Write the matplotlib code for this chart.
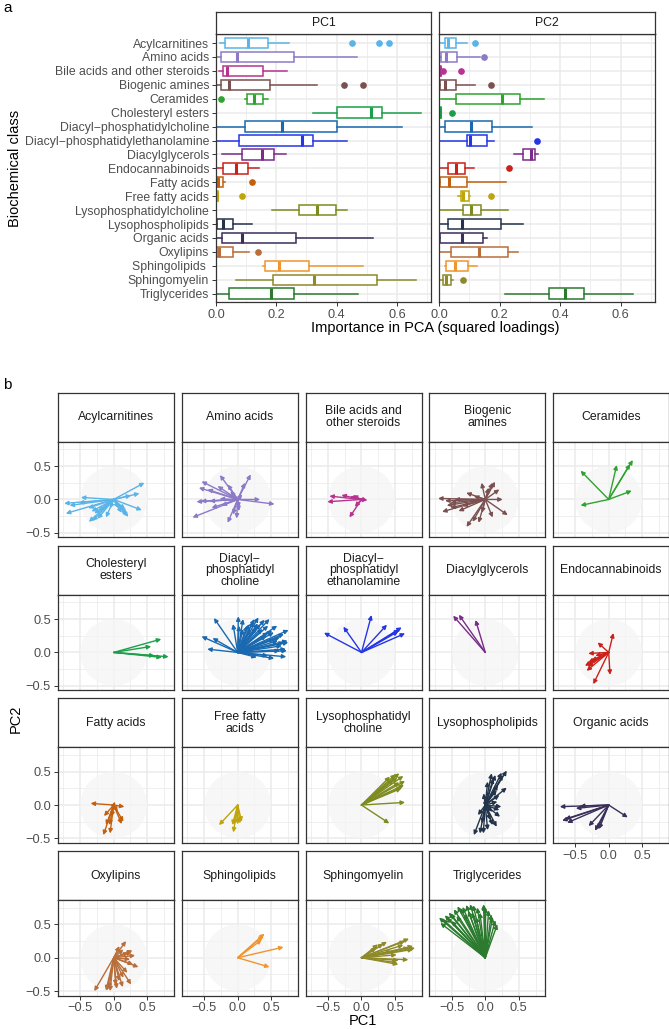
import matplotlib
matplotlib.use("Agg")
import matplotlib.pyplot as plt
from matplotlib.patches import Circle

plt.rcParams['font.family'] = ['Liberation Sans', 'DejaVu Sans']

# ---------------- data ----------------
classes = ["Acylcarnitines", "Amino acids", "Bile acids and other steroids",
           "Biogenic amines", "Ceramides", "Cholesteryl esters",
           "Diacyl\u2212phosphatidylcholine", "Diacyl\u2212phosphatidylethanolamine",
           "Diacylglycerols", "Endocannabinoids", "Fatty acids", "Free fatty acids",
           "Lysophosphatidylcholine", "Lysophospholipids", "Organic acids",
           "Oxylipins", "Sphingolipids ", "Sphingomyelin", "Triglycerides"]

strip_labels = ["Acylcarnitines", "Amino acids", "Bile acids and\nother steroids",
                "Biogenic\namines", "Ceramides", "Cholesteryl\nesters",
                "Diacyl\u2212\nphosphatidyl\ncholine", "Diacyl\u2212\nphosphatidyl\nethanolamine",
                "Diacylglycerols", "Endocannabinoids", "Fatty acids", "Free fatty\nacids",
                "Lysophosphatidyl\ncholine", "Lysophospholipids", "Organic acids",
                "Oxylipins", "Sphingolipids", "Sphingomyelin", "Triglycerides"]

colors = ["#5AB4E8", "#8C7AC8", "#B8338F", "#7B5050", "#2EA32E", "#19A048",
          "#1A69B0", "#2436E5", "#7A2C88", "#CC2019", "#C2600F", "#BFA50A",
          "#7E8B1E", "#23344A", "#3A2F5A", "#B86E3A", "#F0952E", "#8E8A2A", "#2B7A2E"]

# boxplot statistics of squared loadings, PC1
pc1_whislo = [0.013, 0.003, 0.011, 0.002, 0.096, 0.321, 0.001, 0.001, 0.019, 0.002,
              0.000, 0.000, 0.186, 0.000, 0.002, 0.000, 0.155, 0.066, 0.000]
pc1_q1 = [0.030, 0.015, 0.024, 0.015, 0.102, 0.400, 0.096, 0.077, 0.086, 0.022,
          0.002, 0.000, 0.275, 0.002, 0.021, 0.002, 0.163, 0.189, 0.042]
pc1_med = [0.107, 0.070, 0.035, 0.044, 0.127, 0.515, 0.220, 0.286, 0.154, 0.065,
           0.006, 0.002, 0.335, 0.024, 0.087, 0.011, 0.209, 0.325, 0.181]
pc1_q3 = [0.171, 0.258, 0.156, 0.180, 0.156, 0.550, 0.401, 0.323, 0.192, 0.105,
          0.024, 0.005, 0.397, 0.057, 0.266, 0.055, 0.310, 0.535, 0.260]
pc1_whishi = [0.243, 0.469, 0.237, 0.334, 0.174, 0.681, 0.616, 0.436, 0.231, 0.142,
              0.030, 0.006, 0.436, 0.119, 0.521, 0.108, 0.489, 0.663, 0.472]
pc1_fliers = [[0.450, 0.541, 0.575], [], [], [0.423, 0.489], [0.015], [], [], [], [],
              [], [0.121], [0.085], [], [], [], [0.139], [], [], []]

# boxplot statistics of squared loadings, PC2
pc2_whislo = [0.004, 0.002, 0.000, 0.000, 0.008, 0.001, 0.000, 0.000, 0.249, 0.000,
              0.000, 0.063, 0.000, 0.000, 0.000, 0.000, 0.021, 0.002, 0.219]
pc2_q1 = [0.020, 0.007, 0.000, 0.002, 0.056, 0.001, 0.019, 0.092, 0.276, 0.031,
          0.002, 0.071, 0.078, 0.030, 0.004, 0.038, 0.024, 0.014, 0.364]
pc2_med = [0.030, 0.024, 0.002, 0.019, 0.209, 0.004, 0.107, 0.101, 0.304, 0.055,
           0.033, 0.080, 0.107, 0.076, 0.076, 0.133, 0.053, 0.024, 0.415]
pc2_q3 = [0.057, 0.061, 0.006, 0.057, 0.269, 0.008, 0.176, 0.159, 0.317, 0.086,
          0.091, 0.099, 0.140, 0.204, 0.146, 0.229, 0.096, 0.040, 0.477]
pc2_whishi = [0.094, 0.135, 0.008, 0.120, 0.348, 0.008, 0.308, 0.182, 0.328, 0.115,
              0.220, 0.102, 0.227, 0.278, 0.159, 0.260, 0.127, 0.046, 0.640]
pc2_fliers = [[0.118], [0.147], [0.013, 0.072], [0.170], [], [0.042], [], [0.325], [],
              [0.230], [], [0.171], [], [], [], [], [], [0.078], []]

# loadings (PC1, PC2) per class
load_acylcarnitines = [(0.46, 0.25), (0.385, 0.09), (0.42, -0.16), (0.26, 0.06), (-0.49, 0.03),
                       (-0.74, -0.06), (-0.66, -0.09), (-0.715, -0.21), (-0.52, -0.05),
                       (-0.38, -0.13), (-0.33, -0.18), (-0.29, -0.21), (-0.23, -0.17),
                       (-0.37, -0.335), (-0.315, -0.32), (-0.24, -0.29), (-0.115, -0.27),
                       (-0.055, -0.135), (0.07, -0.13), (0.17, -0.145), (0.195, -0.21),
                       (0.22, -0.26), (0.2, -0.24), (0.12, -0.2)]
load_amino = [(-0.265, 0.365), (0.195, 0.375), (-0.54, 0.27), (-0.58, 0.175), (-0.45, 0.15),
              (-0.3, 0.2), (-0.15, 0.225), (-0.11, 0.125), (0.07, 0.075), (0.11, 0.25),
              (-0.615, -0.035), (-0.55, -0.025), (-0.42, -0.025), (-0.27, 0.01),
              (-0.675, -0.27), (-0.39, -0.125), (-0.24, -0.09), (-0.15, -0.35),
              (-0.07, -0.225), (-0.015, -0.285), (0.02, -0.125), (0.02, -0.175),
              (0.335, 0.0), (0.55, -0.07)]
load_bile = [(0.09, -0.01), (-0.48, 0.05), (-0.3, 0.065), (-0.17, 0.045), (-0.13, 0.06),
             (-0.51, -0.035), (-0.18, -0.27), (-0.1, -0.11), (-0.045, 0.01)]
load_biogenic = [(0.11, 0.25), (0.21, 0.15), (-0.055, 0.25), (0.145, 0.265), (0.26, 0.0),
                 (0.335, -0.235), (0.11, -0.27), (-0.705, 0.015), (-0.645, -0.185),
                 (-0.575, -0.09), (-0.52, -0.05), (-0.46, 0.0), (-0.285, 0.1), (-0.34, -0.1),
                 (-0.4, -0.175), (-0.28, -0.41), (-0.19, -0.335), (-0.1, -0.35), (-0.05, -0.2),
                 (-0.52, -0.125), (-0.17, 0.05), (0.05, 0.175), (-0.6, -0.02)]
load_ceramides = [(-0.42, 0.43), (0.12, 0.515), (0.36, 0.59), (0.32, 0.53), (0.345, 0.13),
                  (-0.42, -0.09)]
load_cholesteryl = [(0.71, 0.2), (0.56, 0.09), (0.82, -0.065), (0.72, -0.075), (0.61, -0.05)]
load_dpc = [(-0.355, 0.515), (0.01, 0.54), (-0.54, 0.24), (-0.375, 0.215), (-0.455, 0.05),
            (-0.07, 0.425), (0.08, 0.5), (0.17, 0.425), (0.31, 0.525), (0.4, 0.49),
            (0.475, 0.5), (0.23, 0.46), (0.455, 0.4), (0.59, 0.4), (0.76, 0.335),
            (0.69, 0.275), (0.745, 0.175), (0.755, 0.15), (0.72, 0.05), (0.735, 0.025),
            (0.725, -0.065), (0.545, -0.09), (0.285, -0.075), (0.63, 0.225), (0.54, 0.3),
            (0.455, 0.3), (0.37, 0.35), (0.28, 0.375), (0.195, 0.35), (0.14, 0.4),
            (0.08, 0.35), (0.02, 0.4), (0.69, 0.15), (0.66, 0.1), (0.6, 0.175),
            (0.545, 0.2), (0.43, 0.25), (0.455, -0.05), (0.34, 0.425), (0.25, 0.5),
            (0.515, 0.325), (0.63, 0.025), (0.3, 0.435)]
load_dpe = [(-0.56, 0.295), (-0.27, 0.385), (0.15, 0.56), (0.38, 0.415), (0.6, 0.375),
            (0.55, 0.315), (0.65, 0.285), (0.565, 0.34)]
load_dag = [(-0.48, 0.55), (-0.395, 0.565), (-0.145, 0.485)]
load_endocann = [(0.07, 0.29), (-0.165, 0.15), (-0.305, -0.015), (-0.2, -0.05), (-0.305, -0.15),
                 (-0.285, -0.15), (-0.255, -0.125), (-0.355, -0.2), (-0.33, -0.275),
                 (-0.315, -0.21), (-0.23, -0.475), (0.02, -0.335)]
load_fatty = [(-0.345, 0.025), (0.02, 0.05), (0.16, -0.025), (-0.145, -0.165), (-0.115, -0.3),
              (-0.055, -0.425), (-0.155, -0.45), (0.145, -0.25), (0.12, -0.285),
              (-0.065, -0.3), (-0.03, -0.175), (0.06, -0.1)]
load_ffa = [(-0.28, -0.3), (-0.065, -0.41), (-0.08, -0.3), (0.06, -0.25), (0.035, -0.275),
            (-0.04, -0.285), (0.0, -0.29)]
load_lpc = [(0.565, 0.475), (0.625, 0.435), (0.51, 0.46), (0.425, 0.425), (0.65, 0.36),
            (0.635, 0.3), (0.595, 0.25), (0.565, 0.34), (0.48, 0.375), (0.65, 0.04),
            (0.415, -0.275), (0.535, 0.41), (0.605, 0.275)]
load_lysopl = [(0.32, 0.515), (0.245, 0.485), (0.15, 0.45), (0.095, 0.475), (0.32, 0.26),
               (0.21, 0.15), (0.18, 0.05), (0.24, -0.025), (0.21, -0.075), (0.22, -0.175),
               (0.17, -0.325), (0.11, -0.3), (0.035, -0.375), (-0.03, -0.425),
               (-0.08, -0.425), (-0.17, -0.45), (-0.05, -0.275), (-0.11, -0.15),
               (-0.025, 0.175), (0.035, 0.35), (0.12, 0.4), (0.265, 0.45), (0.19, 0.3),
               (0.17, 0.225), (0.005, 0.1), (0.075, -0.225), (0.11, -0.1)]
load_organic = [(-0.73, -0.025), (-0.43, -0.015), (-0.49, -0.05), (-0.695, -0.235),
                (-0.62, -0.265), (-0.65, -0.21), (-0.3, -0.315), (-0.205, -0.385),
                (-0.17, -0.36), (-0.145, -0.36), (0.285, -0.185)]
load_oxylipins = [(0.185, 0.25), (0.28, 0.11), (0.32, 0.035), (0.37, -0.14), (0.245, -0.025),
                  (0.26, -0.4), (-0.29, -0.5), (-0.115, -0.49), (-0.055, -0.5), (-0.07, -0.46),
                  (0.045, -0.465), (0.03, -0.41), (0.085, -0.35), (0.135, -0.44),
                  (0.145, -0.3), (0.205, -0.225), (0.29, -0.1), (0.145, 0.125),
                  (0.22, 0.075), (0.085, 0.175), (0.27, 0.085), (-0.1, -0.49)]
load_sphingolipids = [(0.4, 0.36), (0.36, 0.27), (0.685, 0.16), (0.475, -0.14), (0.385, 0.335)]
load_sphingomyelin = [(0.71, 0.285), (0.77, 0.175), (0.8, 0.145), (0.71, 0.15), (0.55, -0.1),
                      (0.535, -0.075), (0.7, -0.03), (0.525, 0.045), (0.325, 0.21),
                      (0.38, 0.24), (0.245, 0.2), (0.65, 0.25), (0.625, 0.19),
                      (0.77, 0.125), (0.45, 0.1), (0.22, 0.15), (0.555, -0.04)]
load_tg = [(-0.69, 0.6), (-0.67, 0.52), (-0.635, 0.575), (-0.605, 0.635), (-0.575, 0.6),
           (-0.545, 0.675), (-0.52, 0.66), (-0.505, 0.55), (-0.47, 0.725), (-0.43, 0.625),
           (-0.415, 0.77), (-0.37, 0.74), (-0.34, 0.76), (-0.315, 0.65), (-0.285, 0.79),
           (-0.255, 0.7), (-0.225, 0.8), (-0.2, 0.675), (-0.18, 0.785), (-0.14, 0.61),
           (-0.12, 0.75), (-0.08, 0.675), (-0.025, 0.8), (-0.02, 0.785), (0.005, 0.75),
           (0.05, 0.71), (0.09, 0.65), (0.11, 0.61), (0.15, 0.56), (0.18, 0.5)]

loadings = [load_acylcarnitines, load_amino, load_bile, load_biogenic, load_ceramides,
            load_cholesteryl, load_dpc, load_dpe, load_dag, load_endocann, load_fatty,
            load_ffa, load_lpc, load_lysopl, load_organic, load_oxylipins,
            load_sphingolipids, load_sphingomyelin, load_tg]

# ---------------- figure ----------------
W, H = 669, 1029
fig = plt.figure(figsize=(W / 100, H / 100), dpi=100)
GRID = "#EBEBEB"
BORDER = "#333333"


def axes_px(x0, y0, x1, y1):
    return fig.add_axes([x0 / W, 1 - y1 / H, (x1 - x0) / W, (y1 - y0) / H])


def strip(x0, y0, x1, y1, label):
    s = axes_px(x0, y0, x1, y1)
    s.set_xticks([])
    s.set_yticks([])
    s.set_facecolor("white")
    for sp in s.spines.values():
        sp.set_color(BORDER)
        sp.set_linewidth(0.9)
    s.text(0.5, 0.5, label, ha="center", va="center", fontsize=8.8,
           color="#1A1A1A", linespacing=0.95, transform=s.transAxes)


def frame(ax):
    for sp in ax.spines.values():
        sp.set_color(BORDER)
        sp.set_linewidth(0.9)
        sp.set_zorder(5)
    ax.tick_params(length=3, width=0.7, color=BORDER, labelcolor="#4D4D4D",
                   labelsize=9.2, pad=2)


# ---------- panel a ----------
fig.text(3 / W, 1 - 8 / H, "a", fontsize=11, va="center", ha="left")
panels_a = [(216, 431, "PC1", pc1_whislo, pc1_q1, pc1_med, pc1_q3, pc1_whishi, pc1_fliers),
            (439, 655, "PC2", pc2_whislo, pc2_q1, pc2_med, pc2_q3, pc2_whishi, pc2_fliers)]
for k, (x0, x1, title, wlo, q1, med, q3, whi, fl) in enumerate(panels_a):
    ax = axes_px(x0, 34, x1, 302)
    ax.set_xlim(0, 0.713)
    ax.set_ylim(18.6, -0.65)
    for v in [0.1, 0.3, 0.5, 0.7]:
        ax.axvline(v, color=GRID, lw=0.55, zorder=0)
    for v in [0.0, 0.2, 0.4, 0.6]:
        ax.axvline(v, color=GRID, lw=1.1, zorder=0)
    for i in range(len(classes)):
        ax.axhline(i, color=GRID, lw=1.1, zorder=0)
    for i, c in enumerate(colors):
        st = dict(whislo=wlo[i], q1=q1[i], med=med[i], q3=q3[i], whishi=whi[i], fliers=fl[i])
        ax.bxp([st], positions=[i], widths=0.75, orientation="horizontal",
               showcaps=False, patch_artist=True,
               boxprops=dict(facecolor="white", edgecolor=c, linewidth=1.1),
               whiskerprops=dict(color=c, linewidth=1.1),
               medianprops=dict(color=c, linewidth=2.2),
               flierprops=dict(marker="o", markerfacecolor=c, markeredgecolor=c,
                               markersize=3.8))
    ax.set_xticks([0.0, 0.2, 0.4, 0.6])
    ax.set_xticklabels(["0.0", "0.2", "0.4", "0.6"])
    ax.set_yticks(range(len(classes)))
    frame(ax)
    if k == 0:
        ax.set_yticklabels(classes)
        ax.tick_params(axis="y", labelsize=8.8)
    else:
        ax.set_yticklabels([])
        ax.tick_params(axis="y", length=0)
    strip(x0, 12, x1, 34, title)

fig.text(435 / W, 1 - 328 / H, "Importance in PCA (squared loadings)", fontsize=10.5,
         ha="center", va="center")
fig.text(15 / W, 1 - 168 / H, "Biochemical class", fontsize=10.5, rotation=90,
         ha="center", va="center")

# ---------- panel b ----------
fig.text(3 / W, 1 - 385 / H, "b", fontsize=11, va="center", ha="left")
col_left = [57.7, 181.7, 305.5, 429.3, 552.7]
row_top = [392.7, 545.7, 698.3, 851.0]
col_w, strip_h, panel_h = 116, 49, 95.5

for idx, (lab, pts, c) in enumerate(zip(strip_labels, loadings, colors)):
    r, cidx = divmod(idx, 5)
    x0 = col_left[cidx]
    y0 = row_top[r]
    strip(x0, y0, x0 + col_w, y0 + strip_h, lab)
    ax = axes_px(x0, y0 + strip_h, x0 + col_w, y0 + strip_h + panel_h)
    ax.set_xlim(-0.836, 0.896)
    ax.set_ylim(-0.565, 0.864)
    for v in [-0.75, -0.25, 0.25, 0.75]:
        ax.axvline(v, color=GRID, lw=0.55, zorder=0)
        ax.axhline(v, color=GRID, lw=0.55, zorder=0)
    for v in [-0.5, 0.0, 0.5]:
        ax.axvline(v, color=GRID, lw=1.1, zorder=0)
        ax.axhline(v, color=GRID, lw=1.1, zorder=0)
    ax.add_patch(Circle((0, 0), 0.5, facecolor="#F5F5F5", edgecolor="none",
                        alpha=0.7, zorder=1))
    for (px, py) in pts:
        ax.annotate("", xy=(px, py), xytext=(0, 0),
                    arrowprops=dict(arrowstyle="-|>", color=c, lw=1.0,
                                    mutation_scale=6, shrinkA=0, shrinkB=0),
                    zorder=3)
    ax.set_xticks([-0.5, 0.0, 0.5])
    ax.set_yticks([-0.5, 0.0, 0.5])
    frame(ax)
    bottom_row = (r == 3) or (r == 2 and cidx == 4)
    if bottom_row:
        ax.set_xticklabels(["\u22120.5", "0.0", "0.5"])
    else:
        ax.set_xticklabels([])
        ax.tick_params(axis="x", length=0)
    if cidx == 0:
        ax.set_yticklabels(["\u22120.5", "0.0", "0.5"])
    else:
        ax.set_yticklabels([])
        ax.tick_params(axis="y", length=0)

fig.text(363 / W, 1 - 1021 / H, "PC1", fontsize=10.5, ha="center", va="center")
fig.text(16 / W, 1 - 719 / H, "PC2", fontsize=10.5, rotation=90, ha="center", va="center")

fig.savefig("out.png", dpi=100)
